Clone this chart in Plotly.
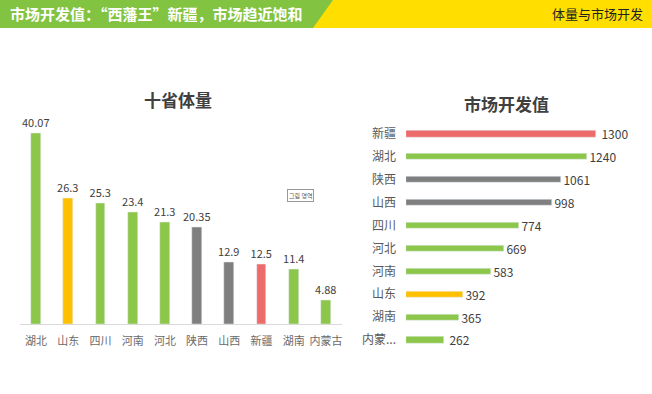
import plotly.graph_objects as go

W, H = 652, 394

# ---- data ----
vol_provinces = ["湖北", "山东", "四川", "河南", "河北", "陕西", "山西", "新疆", "湖南", "内蒙古"]
vol_values = [40.07, 26.3, 25.3, 23.4, 21.3, 20.35, 12.9, 12.5, 11.4, 4.88]
vol_labels = ["40.07", "26.3", "25.3", "23.4", "21.3", "20.35", "12.9", "12.5", "11.4", "4.88"]

mkt_provinces = ["新疆", "湖北", "陕西", "山西", "四川", "河北", "河南", "山东", "湖南", "内蒙..."]
mkt_values = [1300, 1240, 1061, 998, 774, 669, 583, 392, 365, 262]

GREEN = "#8CC64A"
ORANGE = "#FFC000"
GRAY = "#7F7F7F"
RED = "#EE6B6B"
color_map = {"新疆": RED, "山东": ORANGE, "陕西": GRAY, "山西": GRAY}
vol_colors = [color_map.get(p, GREEN) for p in vol_provinces]
mkt_colors = [color_map.get(p, GREEN) for p in mkt_provinces]

FONT = "Noto Sans CJK SC, Open Sans, sans-serif"


def px(x):
    return x / W


def py(y):
    return 1 - y / H


fig = go.Figure()

fig.add_trace(go.Bar(
    x=vol_provinces, y=vol_values, marker_color=vol_colors, width=0.31,
    text=vol_labels, textposition="outside",
    cliponaxis=False, constraintext="none",
    textfont=dict(size=11, color="#404040", family=FONT),
    xaxis="x", yaxis="y", showlegend=False, hoverinfo="x+y",
))

fig.add_trace(go.Bar(
    y=mkt_provinces, x=mkt_values, orientation="h", marker_color=mkt_colors, width=0.27,
    text=[str(v) for v in mkt_values], texttemplate="\u00a0%{text}", textposition="outside",
    cliponaxis=False, constraintext="none",
    textfont=dict(size=12, color="#404040", family=FONT),
    xaxis="x2", yaxis="y2", showlegend=False, hoverinfo="x+y",
))

# left chart geometry
vol_max = 44.0
ppu = 191 / 40.07
top_px = 324 - vol_max * ppu

# right chart geometry
mkt_max = 1600
mpu = 190 / 1300
right_px = 406 + mkt_max * mpu

fig.update_layout(
    width=W, height=H,
    margin=dict(l=0, r=0, t=0, b=0),
    paper_bgcolor="white", plot_bgcolor="white",
    font=dict(family=FONT, color="#595959"),
    bargap=0,
    xaxis=dict(domain=[px(20), px(342)], range=[-0.5, 9.5], showgrid=False,
               showline=True, linecolor="#D9D9D9", linewidth=1, ticks="",
               ticklabelstandoff=7,
               tickfont=dict(size=11, color="#6A6A6A", family=FONT), fixedrange=True),
    yaxis=dict(domain=[py(324), py(top_px)], range=[0, vol_max], visible=False,
               showgrid=False, zeroline=False),
    xaxis2=dict(domain=[px(406), px(right_px)], range=[0, mkt_max], visible=False,
                showgrid=False, zeroline=False, anchor="y2"),
    yaxis2=dict(domain=[py(351.5), py(122.5)], range=[9.5, -0.5], anchor="x2",
                showgrid=False, showline=False, ticks="", ticklabelstandoff=9,
                tickfont=dict(size=12, color="#595959", family=FONT)),
)

# header band
fig.add_shape(type="rect", xref="paper", yref="paper", x0=px(300), x1=1, y0=py(28), y1=1,
              fillcolor="#FFDE00", line_width=0, layer="below")
path = f"M 0 1 L {px(333)} 1 L {px(313)} {py(28)} L 0 {py(28)} Z"
fig.add_shape(type="path", xref="paper", yref="paper", path=path,
              fillcolor="#82C341", line_width=0, layer="below")

fig.add_annotation(text="<b>市场开发值：“西藩王”新疆，市场趋近饱和</b>", xref="paper", yref="paper",
                   x=px(8), y=py(14), xanchor="left", yanchor="middle", showarrow=False,
                   font=dict(size=15, color="white", family=FONT))
fig.add_annotation(text="体量与市场开发", xref="paper", yref="paper",
                   x=px(645), y=py(14), xanchor="right", yanchor="middle", showarrow=False,
                   font=dict(size=13, color="#222222", family=FONT))

# chart titles
fig.add_annotation(text="<b>十省体量</b>", xref="paper", yref="paper",
                   x=px(178), y=py(99), xanchor="center", yanchor="middle", showarrow=False,
                   font=dict(size=17, color="#404040", family=FONT))
fig.add_annotation(text="<b>市场开发值</b>", xref="paper", yref="paper",
                   x=px(507), y=py(103), xanchor="center", yanchor="middle", showarrow=False,
                   font=dict(size=17, color="#404040", family=FONT))

# small tooltip artifact
fig.add_annotation(text="그림 영역", xref="paper", yref="paper",
                   x=px(300), y=py(196), xanchor="center", yanchor="middle", showarrow=False,
                   font=dict(size=6, color="#555555", family="Noto Sans CJK KR"),
                   bordercolor="#999999", borderwidth=1, borderpad=1, bgcolor="white")

fig.write_html("out.html", config={"displayModeBar": False},
               post_script="document.body.style.margin='0';document.body.style.overflow='hidden';")
